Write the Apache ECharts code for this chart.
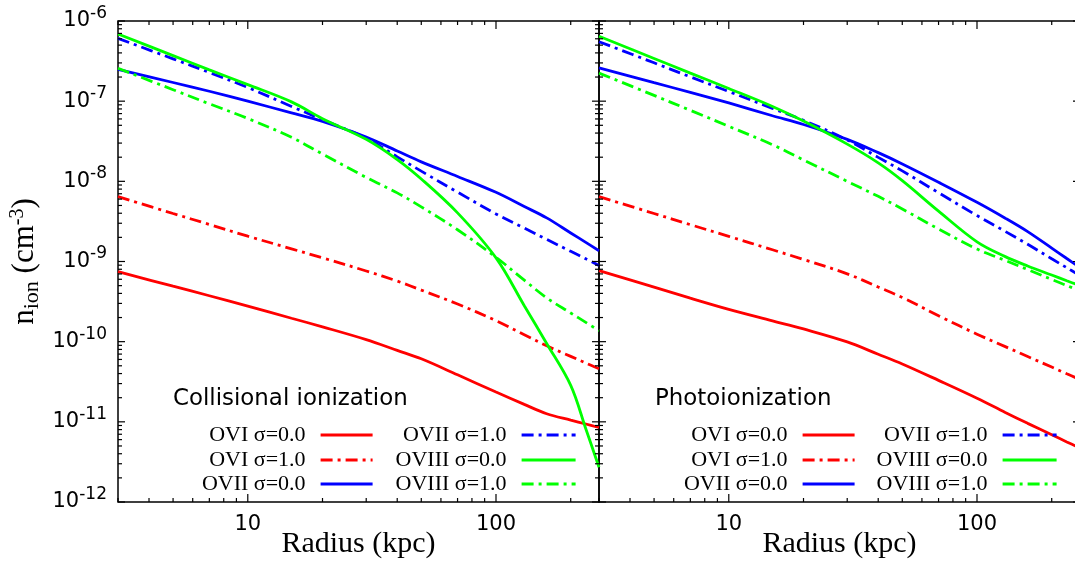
<!DOCTYPE html>
<html>
<head>
<meta charset="utf-8">
<title>Oxygen ion densities</title>
<script src="https://cdn.jsdelivr.net/npm/echarts@6/dist/echarts.min.js"></script>
<style>
  html, body { margin: 0; padding: 0; background: #ffffff; }
  #chart { width: 1075px; height: 563px; }
</style>
</head>
<body>
<div id="chart"></div>
<script>
// Radii (kpc) at which the ion densities are tabulated
const radius = [3, 5, 7, 10, 15, 20, 30, 40, 50, 70, 100, 130, 160, 200, 230, 260];

// Collisional ionization, n_ion in cm^-3
const ciOVI_s0   = [7.46e-10, 4.92e-10, 3.74e-10, 2.78e-10, 1.96e-10, 1.53e-10, 1.06e-10, 7.78e-11, 6.11e-11, 3.86e-11, 2.35e-11, 1.65e-11, 1.26e-11, 1.05e-11, 9.4e-12, 8.5e-12];
const ciOVI_s1   = [6.44e-9, 3.97e-9, 2.90e-9, 2.07e-9, 1.44e-9, 1.11e-9, 7.62e-10, 5.70e-10, 4.40e-10, 2.95e-10, 1.83e-10, 1.22e-10, 8.87e-11, 6.56e-11, 5.42e-11, 4.60e-11];
const ciOVII_s0  = [2.49e-7, 1.71e-7, 1.33e-7, 1.0e-7, 7.13e-8, 5.57e-8, 3.57e-8, 2.39e-8, 1.75e-8, 1.15e-8, 7.29e-9, 4.85e-9, 3.50e-9, 2.27e-9, 1.73e-9, 1.36e-9];
const ciOVII_s1  = [6.08e-7, 3.37e-7, 2.28e-7, 1.48e-7, 8.6e-8, 5.87e-8, 3.45e-8, 2.02e-8, 1.34e-8, 7.33e-9, 3.92e-9, 2.61e-9, 1.89e-9, 1.34e-9, 1.08e-9, 8.9e-10];
const ciOVIII_s0 = [6.89e-7, 3.70e-7, 2.46e-7, 1.61e-7, 9.8e-8, 6.05e-8, 3.34e-8, 1.87e-8, 1.07e-8, 4.04e-9, 1.11e-9, 2.81e-10, 9.5e-11, 2.85e-11, 8.2e-12, 2.71e-12];
const ciOVIII_s1 = [2.57e-7, 1.39e-7, 9.27e-8, 6.08e-8, 3.54e-8, 2.19e-8, 1.12e-8, 7.18e-9, 4.80e-9, 2.49e-9, 1.13e-9, 5.85e-10, 3.52e-10, 2.28e-10, 1.74e-10, 1.37e-10];

// Photoionization, n_ion in cm^-3
const piOVI_s0   = [7.69e-10, 4.78e-10, 3.49e-10, 2.53e-10, 1.82e-10, 1.44e-10, 9.93e-11, 6.97e-11, 5.27e-11, 3.29e-11, 1.97e-11, 1.31e-11, 9.57e-12, 6.90e-12, 5.62e-12, 4.71e-12];
const piOVI_s1   = [6.44e-9, 3.97e-9, 2.88e-9, 2.06e-9, 1.40e-9, 1.06e-9, 7.02e-10, 4.80e-10, 3.56e-10, 2.11e-10, 1.24e-10, 8.67e-11, 6.53e-11, 4.82e-11, 3.98e-11, 3.37e-11];
const piOVII_s0  = [2.60e-7, 1.70e-7, 1.29e-7, 9.5e-8, 6.58e-8, 5.12e-8, 3.34e-8, 2.28e-8, 1.65e-8, 9.75e-9, 5.48e-9, 3.47e-9, 2.36e-9, 1.47e-9, 1.09e-9, 8.4e-10];
const piOVII_s1  = [5.52e-7, 3.01e-7, 2.01e-7, 1.32e-7, 8.13e-8, 5.77e-8, 3.28e-8, 1.99e-8, 1.35e-8, 7.21e-9, 3.74e-9, 2.37e-9, 1.64e-9, 1.08e-9, 8.37e-10, 6.68e-10];
const piOVIII_s0 = [6.46e-7, 3.41e-7, 2.24e-7, 1.44e-7, 8.59e-8, 5.64e-8, 2.91e-8, 1.70e-8, 1.02e-8, 4.25e-9, 1.76e-9, 1.15e-9, 8.79e-10, 6.78e-10, 5.75e-10, 4.99e-10];
const piOVIII_s1 = [2.24e-7, 1.18e-7, 7.69e-8, 4.85e-8, 2.86e-8, 1.85e-8, 1.00e-8, 6.50e-9, 4.52e-9, 2.54e-9, 1.43e-9, 1.03e-9, 7.93e-10, 5.98e-10, 5.01e-10, 4.30e-10];

// Legend names and panel captions
const seriesNames = ['OVI σ=0.0', 'OVI σ=1.0', 'OVII σ=0.0', 'OVII σ=1.0', 'OVIII σ=0.0', 'OVIII σ=1.0'];
const panelTitles = ['Collisional ionization', 'Photoionization'];

// Axis ranges
const R_MIN = 3, R_MAX = 260;
const N_MIN = 1e-12, N_MAX = 1e-6;

// Tick positions (log decades with 1..9 subdivisions)
const xTickValues = [3, 4, 5, 6, 7, 8, 9, 10, 20, 30, 40, 50, 60, 70, 80, 90, 100, 200];
const yTickValues = [];
for (let e = -12; e <= -7; e++) {
  for (let m = 1; m <= 9; m++) yTickValues.push(m * Math.pow(10, e));
}
yTickValues.push(1e-6);

const RED = '#ff0000', BLUE = '#0000ff', GREEN = '#00ff00';
const DASH_DOT = [12, 5, 3, 5];
const LINE_W = 2.8;

const styles = [
  { color: RED,   dash: false },
  { color: RED,   dash: true  },
  { color: BLUE,  dash: false },
  { color: BLUE,  dash: true  },
  { color: GREEN, dash: false },
  { color: GREEN, dash: true  }
];

const panelData = [
  [ciOVI_s0, ciOVI_s1, ciOVII_s0, ciOVII_s1, ciOVIII_s0, ciOVIII_s1],
  [piOVI_s0, piOVI_s1, piOVII_s0, piOVII_s1, piOVIII_s0, piOVIII_s1]
];

function isDecade(v) {
  const l = Math.log10(v);
  return Math.abs(l - Math.round(l)) < 1e-9;
}

const TICK_STYLE = { stroke: '#000', lineWidth: 1.2 };

function xTickRender(params, api) {
  const v = api.value(0);
  const b = api.coord([v, N_MIN]);
  const t = api.coord([v, N_MAX]);
  const len = isDecade(v) ? 8 : 4;
  return {
    type: 'group',
    children: [
      { type: 'line', shape: { x1: b[0], y1: b[1], x2: b[0], y2: b[1] - len }, style: TICK_STYLE },
      { type: 'line', shape: { x1: t[0], y1: t[1], x2: t[0], y2: t[1] + len }, style: TICK_STYLE }
    ]
  };
}

function yTickRender(params, api) {
  const v = api.value(1);
  const l = api.coord([R_MIN, v]);
  const r = api.coord([R_MAX, v]);
  const len = isDecade(v) ? 7 : 4;
  return {
    type: 'group',
    children: [
      { type: 'line', shape: { x1: l[0], y1: l[1], x2: l[0] + len, y2: l[1] }, style: TICK_STYLE },
      { type: 'line', shape: { x1: r[0], y1: r[1], x2: r[0] - len, y2: r[1] }, style: TICK_STYLE }
    ]
  };
}

const PANEL_LEFT = [118, 599];
const PANEL_SIZE = 481;

const grids = PANEL_LEFT.map(left => ({
  left: left, top: 21, width: PANEL_SIZE, height: PANEL_SIZE,
  show: true, borderColor: '#000', borderWidth: 1.5,
  containLabel: false, outerBoundsMode: 'none'
}));

const xAxes = [0, 1].map(g => ({
  gridIndex: g, type: 'log', logBase: 10, min: R_MIN, max: R_MAX,
  axisLine: { show: false }, axisTick: { show: false }, splitLine: { show: false },
  minorTick: { show: false },
  axisLabel: {
    margin: 12, color: '#000', fontFamily: 'DejaVu Sans', fontSize: 21,
    formatter: v => (isDecade(v) ? String(Math.round(v)) : '')
  },
  name: 'Radius (kpc)', nameLocation: 'middle', nameGap: 27, nameMoveOverlap: false,
  nameTextStyle: { fontFamily: 'Liberation Serif', fontSize: 30, color: '#000' }
}));

const yAxes = [0, 1].map(g => ({
  gridIndex: g, type: 'log', logBase: 10, min: N_MIN, max: N_MAX,
  axisLine: { show: false }, axisTick: { show: false }, splitLine: { show: false },
  minorTick: { show: false },
  axisLabel: g === 0 ? {
    margin: 11, color: '#000',
    formatter: v => '{b|10}{s|' + Math.round(Math.log10(v)) + '}',
    rich: {
      b: { fontFamily: 'DejaVu Sans', fontSize: 21, color: '#000' },
      s: { fontFamily: 'DejaVu Sans', fontSize: 17, color: '#000', padding: [0, 0, 15, 0] }
    }
  } : { show: false },
  name: g === 0 ? '{n|n}{sub|ion}{n| (cm}{sup|-3}{n|)}' : '',
  nameLocation: 'middle', nameRotate: 90, nameGap: 75, nameMoveOverlap: false,
  nameTextStyle: {
    color: '#000',
    rich: {
      n: { fontFamily: 'Liberation Serif', fontSize: 31, color: '#000' },
      sub: { fontFamily: 'Liberation Serif', fontSize: 22, color: '#000', padding: [14, 0, 0, 0] },
      sup: { fontFamily: 'Liberation Serif', fontSize: 20, color: '#000', padding: [0, 0, 14, 0] }
    }
  }
}));

const series = [];
panelData.forEach((arrs, g) => {
  arrs.forEach((vals, i) => {
    const st = styles[i];
    series.push({
      type: 'line', name: seriesNames[i],
      xAxisIndex: g, yAxisIndex: g,
      data: radius.map((r, k) => [r, vals[k]]),
      symbol: 'none', showSymbol: false, smooth: 0.35, clip: true,
      lineStyle: { color: st.color, width: LINE_W, type: st.dash ? DASH_DOT : 'solid', cap: 'butt' },
      itemStyle: { color: st.color },
      z: 3
    });
  });
  series.push({
    type: 'custom', xAxisIndex: g, yAxisIndex: g, silent: true, clip: false, z: 5,
    data: xTickValues.map(v => [v, N_MIN]), renderItem: xTickRender
  });
  series.push({
    type: 'custom', xAxisIndex: g, yAxisIndex: g, silent: true, clip: false, z: 5,
    data: yTickValues.map(v => [R_MIN, v]), renderItem: yTickRender
  });
});

// Legend blocks: two columns of three in each panel, text right-aligned before the line sample
const legendRightEdges = [[701, 498], [219, 17]];
const legendRowTops = [424, 449, 473];
const legends = [];
[0, 1].forEach(p => {
  seriesNames.forEach((name, i) => {
    const col = Math.floor(i / 3), row = i % 3;
    legends.push({
      data: [name], right: legendRightEdges[p][col], top: legendRowTops[row],
      orient: 'horizontal', align: 'right', padding: 0,
      itemWidth: col === 0 ? 52 : 54, itemHeight: 14,
      selectedMode: false,
      itemStyle: { opacity: 0, borderWidth: 0 },
      lineStyle: { width: LINE_W },
      textStyle: { fontFamily: 'Liberation Serif', fontSize: 22, color: '#000', padding: [0, 10, 0, 0] }
    });
  });
});

const titles = panelTitles.map((text, p) => ({
  text: text, left: p === 0 ? 173 : 655, top: 388, padding: 0,
  textStyle: { fontFamily: 'DejaVu Sans', fontSize: 22.9, fontWeight: 'normal', color: '#000' }
}));

const chart = echarts.init(document.getElementById('chart'), null, { renderer: 'canvas' });
chart.setOption({
  animation: false,
  backgroundColor: '#ffffff',
  title: titles,
  legend: legends,
  grid: grids,
  xAxis: xAxes,
  yAxis: yAxes,
  series: series
});
</script>
</body>
</html>
